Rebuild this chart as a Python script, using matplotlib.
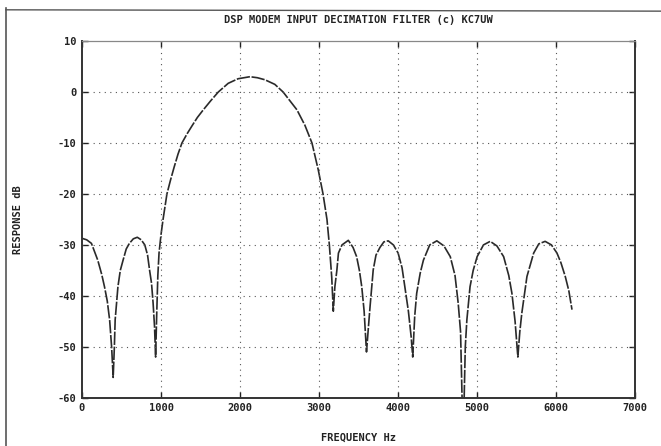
import matplotlib
matplotlib.use("Agg")
import matplotlib.pyplot as plt
from matplotlib.lines import Line2D

# response (Hz, dB)
freq = [0, 60, 120, 200, 250, 285, 320, 350, 375, 395, 410, 420, 440, 455, 485,
        520, 560, 600, 650, 700, 750, 795, 830, 855, 880, 900, 918, 932, 945,
        960, 975, 1000, 1025, 1075, 1120, 1165, 1215, 1265, 1330, 1390, 1460,
        1535, 1630, 1725, 1850, 1975, 2125, 2220, 2315, 2440, 2545, 2630, 2720,
        2820, 2910, 2990, 3050, 3100, 3130, 3160, 3180, 3200, 3225, 3245, 3290,
        3370, 3430, 3475, 3510, 3540, 3570, 3600, 3625, 3645, 3685, 3720, 3770,
        3820, 3875, 3940, 4000, 4050, 4085, 4130, 4165, 4185, 4210, 4235, 4280,
        4320, 4400, 4490, 4580, 4660, 4720, 4760, 4790, 4815, 4830, 4850, 4870,
        4910, 4950, 5000, 5080, 5165, 5250, 5335, 5400, 5440, 5480, 5515, 5540,
        5565, 5630, 5715, 5780, 5860, 5940, 6010, 6060, 6115, 6160, 6200]
resp = [-28.7, -29.0, -29.7, -33.0, -35.8, -38.2, -41.0, -44.7, -50.0, -56.0,
        -50.0, -44.7, -41.0, -38.2, -35.0, -33.0, -30.8, -29.7, -28.8, -28.5,
        -29.0, -30.0, -32.0, -34.9, -37.5, -41.4, -46.0, -52.0, -44.0, -36.0,
        -31.6, -28.0, -25.1, -20.0, -17.3, -14.8, -12.2, -10.0, -8.2, -6.7,
        -5.0, -3.5, -1.7, 0.0, 1.7, 2.6, 3.0, 2.8, 2.4, 1.5, 0.0, -1.7, -3.5,
        -6.5, -10.0, -15.3, -20.0, -25.0, -30.0, -36.3, -43.0, -38.2, -35.0,
        -31.6, -30.0, -29.1, -30.5, -32.3, -35.0, -38.2, -43.0, -51.0, -46.0,
        -42.1, -34.9, -32.0, -30.5, -29.4, -29.2, -30.0, -31.6, -34.5, -38.2,
        -43.0, -48.0, -52.0, -44.0, -39.5, -35.5, -33.0, -30.0, -29.2, -30.2,
        -32.3, -36.0, -41.4, -47.0, -64.0, -64.0, -50.0, -44.7, -38.2, -35.0,
        -32.3, -30.0, -29.3, -30.2, -32.3, -36.0, -39.5, -45.0, -52.0, -47.0,
        -43.4, -36.2, -31.6, -29.8, -29.3, -30.0, -31.6, -33.5, -36.2, -39.0,
        -42.7]

xticks = [0, 1000, 2000, 3000, 4000, 5000, 6000, 7000]
xlabels = ["0", "1000", "2000", "3000", "4000", "5000", "6000", "7000"]
yticks = [10, 0, -10, -20, -30, -40, -50, -60]
ylabels = ["10", "0", "-10", "-20", "-30", "-40", "-50", "-60"]

plt.rcParams["font.family"] = "DejaVu Sans Mono"
plt.rcParams["font.weight"] = "bold"

fig = plt.figure(figsize=(6.61, 4.46), dpi=100)
ax = fig.add_axes([0.124, 0.108, 0.837, 0.800])

ax.plot(freq, resp, color="#2a2a2a", lw=1.2, linestyle=(0, (8, 1)))

ax.set_xlim(0, 7000)
ax.set_ylim(-60, 10)
ax.set_xticks(xticks)
ax.set_xticklabels(xlabels)
ax.set_yticks(yticks)
ax.set_yticklabels(ylabels)

# dotted grid only on the inner lines
for x in xticks[1:-1]:
    ax.axvline(x, color="#555555", lw=0.8, linestyle=(0, (1, 4)))
for y in yticks[1:-1]:
    ax.axhline(y, color="#555555", lw=0.8, linestyle=(0, (1, 4)))

ax.tick_params(direction="in", length=4, width=1, labelsize=7.5, colors="#222222",
               top=True, right=True, pad=4)
for s in ["left", "bottom", "right"]:
    ax.spines[s].set_linewidth(1.4)
    ax.spines[s].set_color("#333333")
ax.spines["top"].set_linewidth(0.9)
ax.spines["top"].set_color("#888888")

ax.set_title("DSP MODEM INPUT DECIMATION FILTER (c) KC7UW", fontsize=7.5,
             fontweight="bold", color="#222222", pad=13)
ax.set_xlabel("FREQUENCY Hz", fontsize=7.5, fontweight="bold", color="#222222", labelpad=14)
ax.set_ylabel("RESPONSE dB", fontsize=7.5, fontweight="bold", color="#222222", labelpad=25)

# page frame from the scan
fig.add_artist(Line2D([0.009, 0.009], [0.0, 0.982], color="#555555", lw=1.2))
fig.add_artist(Line2D([0.009, 1.0], [0.978, 0.975], color="#555555", lw=1.0))

fig.savefig("out.png", dpi=100)
